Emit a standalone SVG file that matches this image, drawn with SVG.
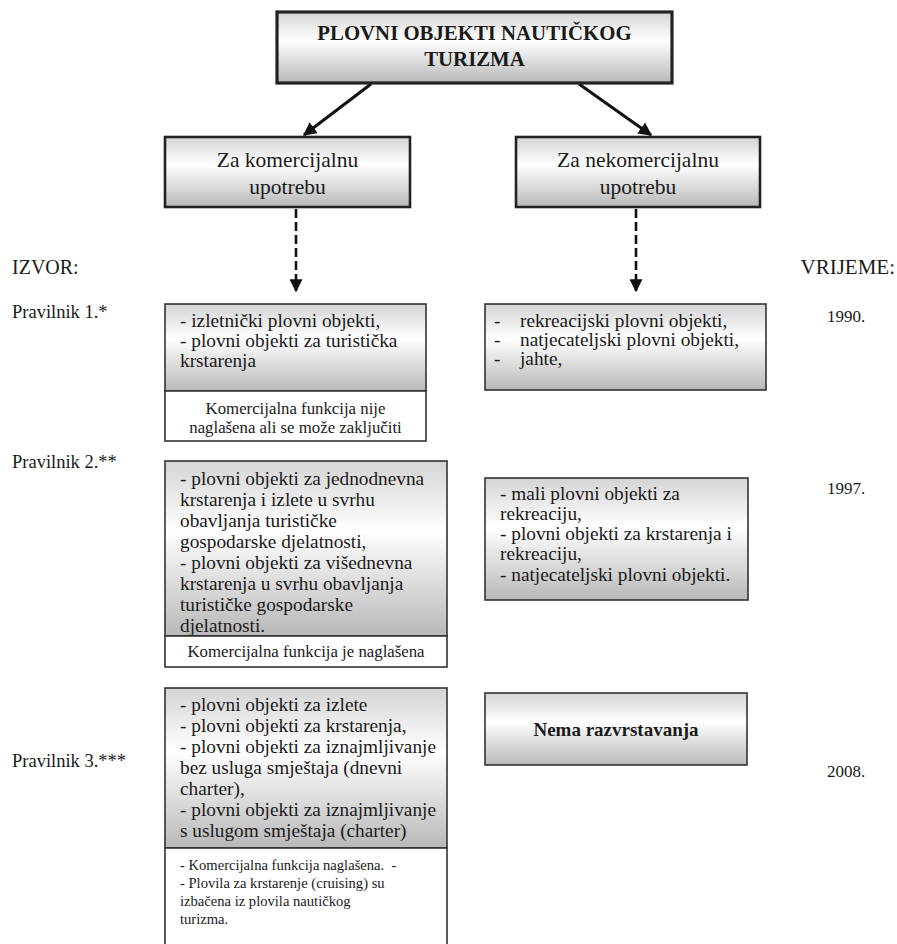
<svg xmlns="http://www.w3.org/2000/svg" width="897" height="944" viewBox="0 0 897 944">
<defs>
<linearGradient id="g" x1="0" y1="0" x2="0" y2="1">
<stop offset="0" stop-color="#d4d4d4"/>
<stop offset="0.4" stop-color="#ffffff"/>
<stop offset="1" stop-color="#b8b8b8"/>
</linearGradient>
<marker id="ah" viewBox="0 0 10 10" refX="9" refY="5" markerWidth="4.5" markerHeight="4.5" orient="auto" markerUnits="strokeWidth">
<path d="M0,0 L10,5 L0,10 z" fill="#111"/>
</marker>
<marker id="ahd" viewBox="0 0 10 10" refX="9" refY="5" markerWidth="5" markerHeight="5" orient="auto" markerUnits="strokeWidth">
<path d="M0,0 L10,5 L0,10 z" fill="#111"/>
</marker>
</defs>
<style>
text{font-family:"Liberation Serif","Times New Roman",serif;fill:#1a1a1a}
.t{font-size:20.8px;font-weight:bold;text-anchor:middle}
.h{font-size:21.5px;text-anchor:middle}
.b{font-size:19.3px}
.n{font-size:16.8px;text-anchor:middle}
.m{font-size:14.6px}
.s{font-size:18.5px}
.y{font-size:17px;text-anchor:middle}
.box{fill:url(#g);stroke:#333;stroke-width:1.6}
.wbox{fill:#fff;stroke:#333;stroke-width:1.6}
.hbox{fill:url(#g);stroke:#222;stroke-width:2.6}
</style>
<g id="side-labels">
<text x="12" y="274" style="font-size:20px">IZVOR:</text>
<text class="s" x="12" y="318">Pravilnik 1.*</text>
<text class="s" x="12" y="468">Pravilnik 2.**</text>
<text class="s" x="12" y="767">Pravilnik 3.***</text>
<text x="895" y="274" style="font-size:21px;text-anchor:end">VRIJEME:</text>
<text class="y" x="846" y="322">1990.</text>
<text class="y" x="846" y="494">1997.</text>
<text class="y" x="846" y="777">2008.</text>
</g>
<g id="connectors" stroke="#111" fill="none">
<line x1="371" y1="84" x2="304" y2="135" stroke-width="3" marker-end="url(#ah)"/>
<line x1="579" y1="84" x2="651" y2="135" stroke-width="3" marker-end="url(#ah)"/>
<line x1="296" y1="209" x2="296" y2="291" stroke-width="2.6" stroke-dasharray="9,4" marker-end="url(#ahd)"/>
<line x1="636" y1="209" x2="636" y2="291" stroke-width="2.6" stroke-dasharray="9,4" marker-end="url(#ahd)"/>
</g>
<g id="root">
<rect class="hbox" x="277" y="12" width="395" height="71" style="stroke-width:3.2"/>
<text class="t" x="474.5" y="40">PLOVNI OBJEKTI NAUTIČKOG</text>
<text class="t" x="474.5" y="66">TURIZMA</text>
</g>
<g id="komercijalna">
<rect class="hbox" x="165" y="137" width="245" height="70"/>
<text class="h" x="287.5" y="167">Za komercijalnu</text>
<text class="h" x="287.5" y="194">upotrebu</text>
</g>
<g id="nekomercijalna">
<rect class="hbox" x="516" y="137" width="244" height="70"/>
<text class="h" x="638" y="167">Za nekomercijalnu</text>
<text class="h" x="638" y="194">upotrebu</text>
</g>
<g id="k1">
<rect class="box" x="165" y="304" width="261" height="87"/>
<text class="b" x="180" y="327">- izletnički plovni objekti,</text>
<text class="b" x="180" y="347">- plovni objekti za turistička</text>
<text class="b" x="180" y="367">krstarenja</text>
<rect class="wbox" x="165" y="391" width="261" height="50"/>
<text class="n" x="295.5" y="414">Komercijalna funkcija nije</text>
<text class="n" x="295.5" y="433">naglašena ali se može zaključiti</text>
</g>
<g id="n1">
<rect class="box" x="485" y="304" width="281" height="86"/>
<text class="b" x="494" y="327">-</text><text class="b" x="520" y="327">rekreacijski plovni objekti,</text>
<text class="b" x="494" y="346">-</text><text class="b" x="520" y="346">natjecateljski plovni objekti,</text>
<text class="b" x="494" y="365">-</text><text class="b" x="520" y="365">jahte,</text>
</g>
<g id="k2">
<rect class="box" x="165" y="461" width="282" height="175"/>
<text class="b" x="180" y="485">- plovni objekti za jednodnevna</text>
<text class="b" x="180" y="506">krstarenja i izlete u svrhu</text>
<text class="b" x="180" y="527">obavljanja turističke</text>
<text class="b" x="180" y="548">gospodarske djelatnosti,</text>
<text class="b" x="180" y="569">- plovni objekti za višednevna</text>
<text class="b" x="180" y="590">krstarenja u svrhu obavljanja</text>
<text class="b" x="180" y="611">turističke gospodarske</text>
<text class="b" x="180" y="632">djelatnosti.</text>
<rect class="wbox" x="165" y="636" width="282" height="31"/>
<text class="n" x="306" y="657">Komercijalna funkcija je naglašena</text>
</g>
<g id="n2">
<rect class="box" x="485" y="478" width="263" height="122"/>
<text class="b" x="500" y="500">- mali plovni objekti za</text>
<text class="b" x="500" y="520">rekreaciju,</text>
<text class="b" x="500" y="540">- plovni objekti za krstarenja i</text>
<text class="b" x="500" y="560">rekreaciju,</text>
<text class="b" x="500" y="581">- natjecateljski plovni objekti.</text>
</g>
<g id="k3">
<rect class="box" x="165" y="688" width="282" height="160"/>
<text class="b" x="180" y="711">- plovni objekti za izlete</text>
<text class="b" x="180" y="732">- plovni objekti za krstarenja,</text>
<text class="b" x="180" y="753">- plovni objekti za iznajmljivanje</text>
<text class="b" x="180" y="774">bez usluga smještaja (dnevni</text>
<text class="b" x="180" y="795">charter),</text>
<text class="b" x="180" y="816">- plovni objekti za iznajmljivanje</text>
<text class="b" x="180" y="837">s uslugom smještaja (charter)</text>
<rect class="wbox" x="165" y="848" width="282" height="110"/>
<text class="m" x="180" y="870" xml:space="preserve">- Komercijalna funkcija naglašena.  -</text>
<text class="m" x="180" y="888">- Plovila za krstarenje (cruising) su</text>
<text class="m" x="180" y="906">izbačena iz plovila nautičkog</text>
<text class="m" x="180" y="924">turizma.</text>
</g>
<g id="n3">
<rect class="box" x="485" y="693" width="262" height="72"/>
<text x="616" y="736" style="font-size:19px;font-weight:bold;text-anchor:middle">Nema razvrstavanja</text>
</g>
</svg>
